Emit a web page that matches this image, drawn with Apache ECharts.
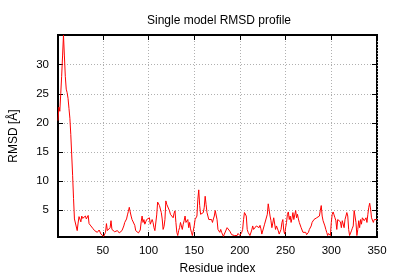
<!DOCTYPE html>
<html>
<head>
<meta charset="utf-8">
<script src="https://cdn.jsdelivr.net/npm/echarts@6/dist/echarts.min.js"></script>
<style>html,body{margin:0;padding:0;background:#fff}#c{width:400px;height:280px}</style>
</head>
<body>
<div id="c"></div>
<script>
const title = 'Single model RMSD profile';
const xName = 'Residue index';
const yName = 'RMSD [Å]';
const xTicks = [50, 100, 150, 200, 250, 300, 350];
const yTicks = [5, 10, 15, 20, 25, 30];
// RMSD per residue, residue index = position + 1
const rmsd = [
 20.4, 22.7, 22.0, 25.0, 28.0, 31.5, 35.1, 31.5, 28.0, 25.8,
 25.2, 24.2, 22.5, 20.8, 18.0, 14.5, 11.0, 7.0, 3.5, 3.6,
 3.4, 1.5, 2.8, 3.9, 4.2, 3.0, 4.0, 3.6, 3.5, 3.8,
 4.0, 3.5, 3.7, 4.1, 2.7, 2.4, 2.3, 2.2, 1.9, 1.7,
 1.5, 1.6, 1.4, 1.2, 1.3, 1.6, 1.4, 0.9, 0.6, 1.0,
 0.5, 0.8, 1.2, 2.7, 1.5, 1.2, 1.6, 2.0, 3.2, 1.7,
 1.4, 1.8, 1.3, 1.0, 1.2, 1.5, 1.3, 1.1, 0.9, 1.3,
 1.5, 1.7, 2.3, 2.9, 3.2, 3.5, 4.2, 4.8, 5.5, 4.7,
 4.0, 3.4, 3.6, 3.2, 2.4, 1.5, 1.2, 1.4, 1.1, 0.9,
 1.6, 3.0, 4.0, 2.9, 3.4, 2.6, 3.0, 3.4, 3.1, 3.4,
 3.7, 2.6, 3.0, 3.4, 2.9, 2.0, 1.5, 1.8, 4.2, 6.4,
 6.2, 5.8, 5.2, 4.6, 3.5, 1.7, 2.2, 3.4, 6.6, 6.0,
 6.0, 6.3, 4.9, 4.3, 4.0, 4.6, 3.7, 4.5, 4.9, 2.9,
 1.2, 0.65, 1.5, 2.0, 2.9, 2.3, 1.7, 2.6, 3.2, 4.0,
 2.9, 3.0, 3.4, 2.0, 2.9, 1.8, 1.2, 0.65, 0.4, 2.3,
 3.4, 3.6, 4.0, 6.9, 8.5, 5.8, 4.3, 4.4, 4.5, 4.6,
 5.5, 7.4, 6.0, 4.6, 4.0, 3.4, 3.6, 3.7, 3.4, 2.9,
 3.5, 4.0, 4.95, 5.2, 3.4, 1.7, 1.4, 1.2, 1.7, 1.2,
 0.9, 0.5, 0.9, 1.2, 1.0, 2.0, 1.8, 1.7, 1.4, 1.2,
 0.8, 0.65, 0.7, 0.65, 0.75, 0.8, 0.65, 1.0, 1.2, 0.65,
 0.4, 1.2, 1.7, 3.4, 4.6, 4.3, 4.0, 1.7, 1.2, 1.0,
 0.65, 0.9, 1.6, 2.3, 1.7, 1.5, 1.9, 2.3, 2.6, 2.3,
 2.0, 2.4, 1.8, 0.9, 0.65, 1.2, 2.6, 2.4, 2.3, 4.3,
 6.1, 5.8, 4.0, 3.2, 2.0, 2.8, 3.7, 3.4, 1.7, 2.3,
 2.6, 1.45, 0.9, 1.2, 1.7, 2.9, 3.4, 1.45, 0.9, 2.0,
 2.9, 4.3, 4.7, 3.4, 4.0, 2.9, 3.6, 4.6, 3.4, 3.7,
 4.95, 3.7, 4.3, 3.5, 2.9, 2.6, 2.0, 1.7, 1.2, 0.9,
 1.0, 1.2, 0.8, 1.0, 1.2, 1.7, 2.0, 2.3, 2.9, 3.2,
 3.4, 3.1, 3.4, 3.7, 3.4, 3.7, 4.0, 5.0, 5.8, 4.0,
 3.2, 2.9, 2.3, 1.7, 1.2, 0.65, 1.0, 1.2, 0.65, 2.9,
 4.3, 4.7, 4.2, 3.7, 3.2, 1.7, 3.4, 3.2, 3.7, 3.0,
 2.0, 3.2, 3.4, 2.0, 3.4, 4.0, 4.6, 4.0, 1.7, 0.65,
 0.4, 1.45, 1.9, 2.3, 4.95, 5.2, 2.9, 0.65, 1.7, 3.2,
 2.0, 3.4, 2.6, 3.7, 3.4, 3.2, 2.9, 3.7, 2.9, 4.3,
 5.5, 6.2, 5.2, 3.7, 3.4, 2.9, 3.4, 3.7, 3.2, 3.4
];
const points = rmsd.map((v, i) => [i + 1, v]);
const xMin = 1, xMax = rmsd.length;
const yMin = Math.min(...rmsd), yMax = Math.max(...rmsd);

const font = 'Liberation Sans, Arial, sans-serif';
const gridLine = { show: true, lineStyle: { color: '#b0b0b0', width: 1, type: [1, 2] } };
const chart = echarts.init(document.getElementById('c'), null, { renderer: 'canvas' });
chart.setOption({
  animation: false,
  backgroundColor: '#fff',
  title: { text: title, left: 214, top: 10, textAlign: 'center',
    textStyle: { fontFamily: font, fontSize: 12, fontWeight: 'normal', color: '#000' } },
  grid: { left: 52, right: 23, top: 35, bottom: 40, show: true, borderColor: '#000', borderWidth: 2, backgroundColor: 'transparent' },
  xAxis: [{
    type: 'value', min: xMin, max: xMax, position: 'bottom',
    name: xName, nameLocation: 'middle', nameGap: 26,
    nameTextStyle: { fontFamily: font, fontSize: 12, color: '#000' },
    axisLine: { show: false },
    axisTick: { show: true, inside: true, length: 5, customValues: xTicks, lineStyle: { color: '#000' } },
    axisLabel: { show: true, customValues: xTicks, margin: 8, fontFamily: font, fontSize: 11.5, color: '#000' },
    splitLine: gridLine
  }, {
    type: 'value', min: xMin, max: xMax, position: 'top',
    axisLine: { show: false },
    axisTick: { show: true, inside: true, length: 5, customValues: xTicks, lineStyle: { color: '#000' } },
    axisLabel: { show: false },
    splitLine: { show: false }
  }],
  yAxis: [{
    type: 'value', min: yMin, max: yMax, position: 'left',
    name: yName, nameLocation: 'middle', nameGap: 38,
    nameTextStyle: { fontFamily: font, fontSize: 12, color: '#000' },
    axisLine: { show: false },
    axisTick: { show: true, inside: true, length: 5, customValues: yTicks, lineStyle: { color: '#000' } },
    axisLabel: { show: true, customValues: yTicks, margin: 9, fontFamily: font, fontSize: 11.5, color: '#000' },
    splitLine: gridLine
  }, {
    type: 'value', min: yMin, max: yMax, position: 'right',
    axisLine: { show: false },
    axisTick: { show: true, inside: true, length: 5, customValues: yTicks, lineStyle: { color: '#000' } },
    axisLabel: { show: false },
    splitLine: { show: false }
  }],
  series: [{
    type: 'line', data: points, xAxisIndex: 0, yAxisIndex: 0,
    showSymbol: false, symbol: 'none', smooth: false,
    lineStyle: { color: '#ff0000', width: 1 },
    z: 3
  }]
});
</script>
</body>
</html>
